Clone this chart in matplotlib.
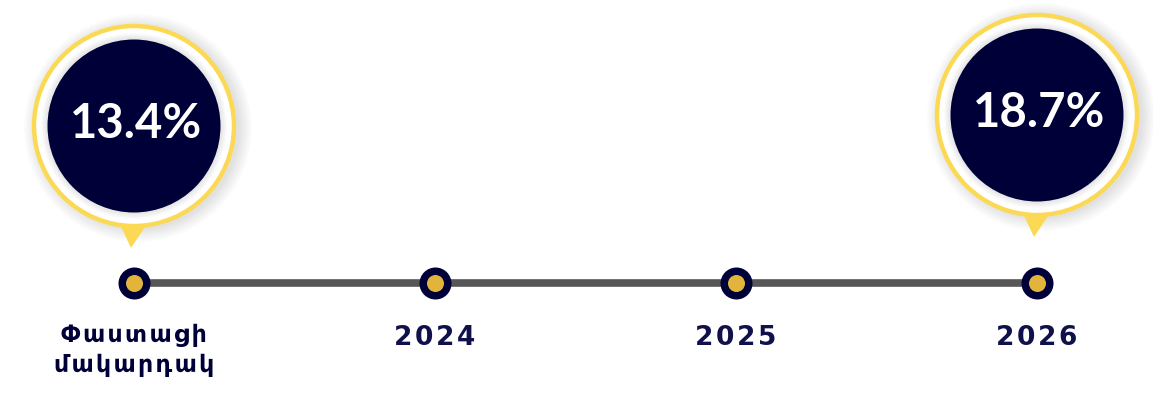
import matplotlib.pyplot as plt
from matplotlib.patches import Circle, Polygon

# data
labels = ["Փաստացի\nմակարդակ", "2024", "2025", "2026"]
values = [13.4, None, None, 18.7]

navy = "#000038"
gold = "#fcd955"
dot_gold = "#e2b43c"
line_grey = "#575757"

PX = 1 / 301.0          # data units per pixel
lift = {0: 157, 3: 168}  # bubble height above the timeline, px

fig = plt.figure(figsize=(11.53, 4), dpi=100)
ax = fig.add_axes([0, 0, 1, 1])
ax.set_xlim(-134 * PX, 3 + 116 * PX)
ax.set_ylim(-117 * PX, 283 * PX)
ax.set_aspect("equal")
ax.axis("off")

xs = list(range(len(labels)))

# timeline
ax.plot([xs[0], xs[-1]], [0, 0], color=line_grey, lw=5.5, solid_capstyle="butt", zorder=1)
ax.scatter(xs, [0] * len(xs), s=(32 * 0.72) ** 2, color=navy, zorder=2, lw=0)
ax.scatter(xs, [0] * len(xs), s=(17 * 0.72) ** 2, color=dot_gold, zorder=3, lw=0)

# labels under the points
for x, lab in zip(xs, labels):
    spaced = "\n".join("\u200a".join(line) for line in lab.split("\n"))
    if "\n" in lab:
        ax.text(x, -67 * PX, spaced, ha="center", va="center", fontsize=17,
                fontweight="bold", color=navy, family="DejaVu Sans", linespacing=1.3)
    else:
        ax.text(x, -55 * PX, spaced, ha="center", va="center", fontsize=19,
                fontweight="bold", color="#10104a", family="DejaVu Sans")

# bubbles
for x, v in zip(xs, values):
    if v is None:
        continue
    cy = lift[x] * PX
    r_out = 100 * PX
    # soft shadow
    for k in range(10):
        ax.add_patch(Circle((x + 4 * PX, cy - 2 * PX), r_out + (14 - k * 1.4) * PX,
                            color="#000000", alpha=0.012, lw=0, zorder=4))
    # pointer
    ax.add_patch(Polygon([(x - 17 * PX, cy - 92 * PX), (x + 17 * PX, cy - 92 * PX),
                          (x - 3 * PX, cy - 122 * PX)],
                         closed=True, color=gold, lw=0, zorder=5))
    ax.add_patch(Circle((x, cy), r_out, facecolor="white", edgecolor=gold, lw=3.2, zorder=6))
    for k in range(6):
        ax.add_patch(Circle((x, cy), (87 + 6 - k) * PX, color="#000000", alpha=0.015,
                            lw=0, zorder=7))
    ax.add_patch(Circle((x, cy), 86.5 * PX, color=navy, lw=0, zorder=8))
    ax.text(x + 2 * PX, cy + 2 * PX, f"{v}%", ha="center", va="center", fontsize=34,
            fontweight="bold", color="white", family="Lato", zorder=9)

fig.savefig("out.png", dpi=100, facecolor="white")
